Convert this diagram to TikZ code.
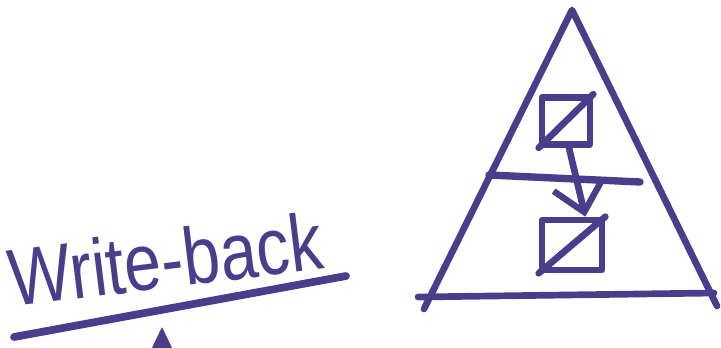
\documentclass[tikz,border=0pt]{standalone}
\usepackage{fontspec}
\setmainfont{Liberation Sans}
\usetikzlibrary{calc, arrows.meta}
\definecolor{ink}{RGB}{72, 62, 140}

\begin{document}
\begin{tikzpicture}[
	x=0.02cm, y=-0.02cm,
	% Styles for the marker strokes and the cache cells
	pen/.style={draw=ink, line width=3.8pt, line cap=round, line join=round},
	cellbox/.style={pen, rectangle, inner sep=0pt},
	bigarrow/.style={pen, -{Straight Barb[length=0.55cm, width=1.0cm, line width=3.6pt]}},
	labeltext/.style={text=ink, font=\fontsize{46}{46}\selectfont, inner sep=0pt}
	]
	\useasboundingbox (0,0) rectangle (721,348);
	
	% ==========================================
	% 1. WRITE-BACK LABEL
	% ==========================================
	\node[labeltext, anchor=base west, rotate=7, xscale=0.82, transform shape] (label) at (12,307) {Write-back};
	\coordinate (ruleL) at (14,337);
	\coordinate (ruleR) at (346,276);
	\draw[pen, line width=4.4pt] (ruleL) -- (ruleR);
	
	% Tip of the arrow coming up from below
	\coordinate (upfoot) at (162,400);
	\coordinate (uptip) at (162,327);
	\draw[pen, -{Straight Barb[length=0.5cm, width=0.48cm, line width=3.6pt]}] (upfoot) -- (uptip);
	
	% ==========================================
	% 2. TRIANGLE WITH TWO LEVELS
	% ==========================================
	\coordinate (apex) at (572,10);
	\coordinate (baseL) at (424,309);
	\coordinate (baseR) at (717,306);
	\draw[pen] (baseL) -- (apex) -- (baseR);
	
	% Base line and the level divider
	\coordinate (floorL) at (418,297);
	\coordinate (floorR) at (714,293);
	\draw[pen] (floorL) -- (floorR);
	\coordinate (midL) at (489,175);
	\coordinate (midR) at (640,182);
	\draw[pen, line width=4.2pt] (midL) -- (midR);
	
	% ==========================================
	% 3. CELLS AND THE WRITE-BACK ARROW
	% ==========================================
	\node[cellbox, minimum width=0.96cm, minimum height=0.94cm] (upper) at (566,121) {};
	\draw[pen] (upper.south west) -- (upper.north east);
	
	\node[cellbox, minimum width=1.2cm, minimum height=1.0cm] (lower) at (572,245) {};
	\draw[pen] (lower.south west) -- (lower.north east);
	
	\draw[bigarrow] ($(upper.south)+(3,0)$) -- ($(lower.north)!0.4!(lower.north east)$);
\end{tikzpicture}
\end{document}
